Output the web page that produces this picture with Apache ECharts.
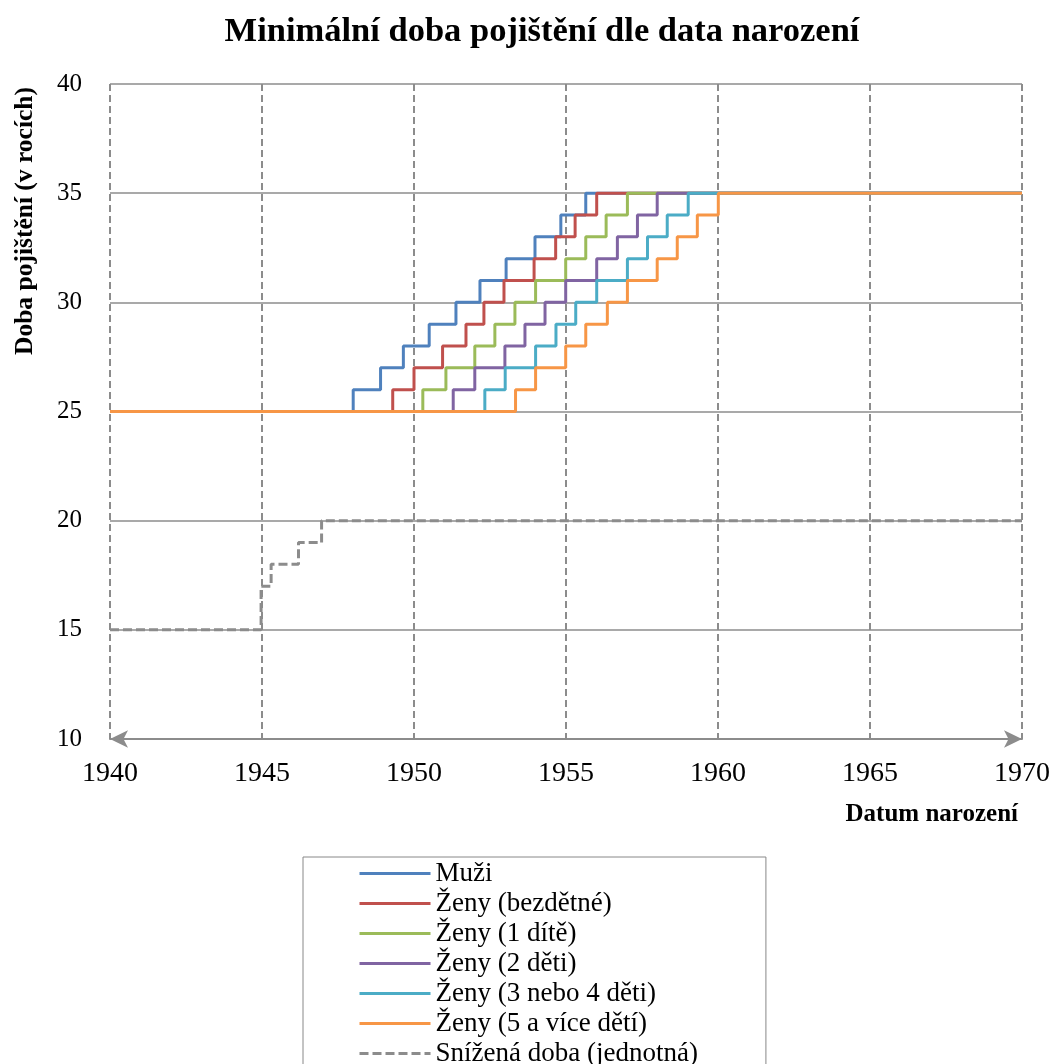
<!DOCTYPE html>
<html>
<head>
<meta charset="utf-8">
<script src="https://cdn.jsdelivr.net/npm/echarts@6/dist/echarts.min.js"></script>
<style>
  html, body { margin: 0; padding: 0; background: #fff; }
  #chart { width: 1055px; height: 1064px; }
</style>
</head>
<body>
<div id="chart"></div>
<script>
// [rok narození, doba pojištění] – body změny (schod)
const muzi = [[1940,25],[1948.0,26],[1948.9,27],[1949.65,28],[1950.5,29],[1951.38,30],[1952.17,31],[1953.03,32],[1953.98,33],[1954.83,34],[1955.65,35],[1970,35]]
const zenyBez = [[1940,25],[1949.3,26],[1950.0,27],[1950.94,28],[1951.71,29],[1952.3,30],[1952.96,31],[1953.95,32],[1954.66,33],[1955.3,34],[1956.01,35],[1970,35]]
const zeny1 = [[1940,25],[1950.29,26],[1951.05,27],[1952.0,28],[1952.66,29],[1953.32,30],[1954.0,31],[1954.99,32],[1955.65,33],[1956.32,34],[1957.02,35],[1970,35]]
const zeny2 = [[1940,25],[1951.29,26],[1952.0,27],[1952.99,28],[1953.65,29],[1954.31,30],[1954.99,31],[1956.01,32],[1956.69,33],[1957.35,34],[1958.0,35],[1970,35]]
const zeny34 = [[1940,25],[1952.33,26],[1953.0,27],[1954.0,28],[1954.67,29],[1955.32,30],[1956.01,31],[1957.02,32],[1957.68,33],[1958.33,34],[1959.02,35],[1970,35]]
const zeny5 = [[1940,25],[1953.34,26],[1954.0,27],[1954.99,28],[1955.65,29],[1956.36,30],[1957.02,31],[1958.0,32],[1958.66,33],[1959.32,34],[1960.01,35],[1970,35]]
const snizena = [[1940,15],[1944.97,17],[1945.3,18],[1946.2,19],[1946.96,20],[1970,20]]

const nazvy = ['Muži', 'Ženy (bezdětné)', 'Ženy (1 dítě)', 'Ženy (2 děti)', 'Ženy (3 nebo 4 děti)', 'Ženy (5 a více dětí)', 'Snížená doba (jednotná)']
const barvy = ['#4F81BD', '#C0504D', '#9BBB59', '#8064A2', '#4BACC6', '#F79646', '#8C8C8C']
const data = [muzi, zenyBez, zeny1, zeny2, zeny34, zeny5, snizena]

const serif = 'Liberation Serif'

const myChart = echarts.init(document.getElementById('chart'))
const option = {
  animation: false,
  backgroundColor: '#fff',
  title: {
    text: 'Minimální doba pojištění dle data narození',
    left: 537,
    top: 10,
    textAlign: 'center',
    textStyle: { fontFamily: serif, fontSize: 34.5, fontWeight: 'bold', color: '#000' }
  },
  grid: { left: 110, right: 33, top: 84, bottom: 325 },
  xAxis: {
    type: 'value',
    min: 1940,
    max: 1970,
    interval: 5,
    axisLine: {
      show: true,
      symbol: ['arrow', 'arrow'],
      symbolSize: [13, 18],
      symbolOffset: [0, 0],
      lineStyle: { color: '#8C8C8C', width: 2 }
    },
    axisTick: { show: false },
    axisLabel: { fontFamily: serif, fontSize: 28, color: '#000', margin: 21, formatter: v => String(v) },
    splitLine: { show: true, lineStyle: { color: '#8C8C8C', width: 2, type: [7, 4] } }
  },
  yAxis: {
    type: 'value',
    min: 10,
    max: 40,
    interval: 5,
    axisLine: { show: false },
    axisTick: { show: false },
    axisLabel: { fontFamily: serif, fontSize: 25, color: '#000', margin: 28 },
    splitLine: { show: true, lineStyle: { color: '#8C8C8C', width: 1.5 } }
  },
  legend: {
    orient: 'vertical',
    left: 303,
    top: 857,
    height: 400,
    data: nazvy,
    itemWidth: 71,
    itemHeight: 14,
    itemGap: 3,
    padding: [3, 68, 30, 55],
    borderColor: '#888',
    borderWidth: 1,
    itemStyle: { opacity: 0 },
    lineStyle: { width: 3 },
    textStyle: { fontFamily: serif, fontSize: 27, lineHeight: 27, color: '#000' }
  },
  graphic: [
    {
      type: 'text',
      x: 25, y: 221,
      rotation: Math.PI / 2,
      style: { text: 'Doba pojištění (v rocích)', fontFamily: serif, fontSize: 25.5, fontWeight: 'bold', fill: '#000', align: 'center', verticalAlign: 'middle' }
    },
    {
      type: 'text',
      x: 1018, y: 815,
      style: { text: 'Datum narození', fontFamily: serif, fontSize: 25, fontWeight: 'bold', fill: '#000', align: 'right', verticalAlign: 'middle' }
    }
  ],
  series: data.map((d, i) => ({
    name: nazvy[i],
    type: 'line',
    step: 'end',
    data: d,
    symbol: 'none',
    color: barvy[i],
    lineStyle: { color: barvy[i], width: 3, type: i === 6 ? [9, 4] : 'solid' }
  }))
}
myChart.setOption(option)
</script>
</body>
</html>
